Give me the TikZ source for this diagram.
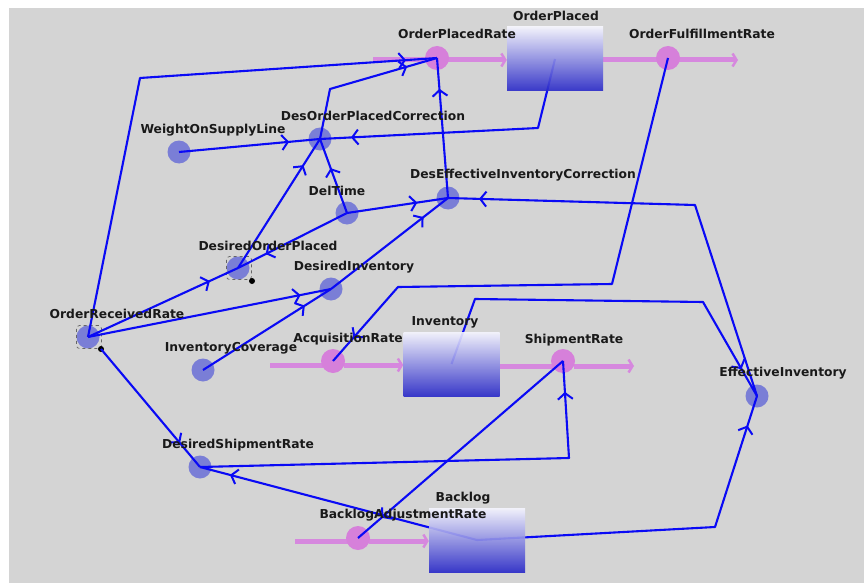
\documentclass[tikz,border=0pt]{standalone}
\usepackage{fontspec}
\setmainfont{DejaVu Sans}
\usetikzlibrary{arrows.meta,decorations.markings}
\pgfdeclarelayer{background}
\pgfdeclarelayer{foreground}
\pgfsetlayers{background,main,foreground}
\definecolor{bggray}{RGB}{212,212,212}
\definecolor{auxfill}{RGB}{122,126,214}
\definecolor{ratefill}{RGB}{214,128,218}
\definecolor{pipecol}{RGB}{214,136,222}
\definecolor{linkblue}{RGB}{10,10,245}
\definecolor{stockbot}{RGB}{40,40,200}
\definecolor{labelcol}{RGB}{25,25,25}
\tikzset{
  lbl/.style={font=\bfseries\fontsize{12.3}{14}\selectfont, text=labelcol, inner sep=0pt},
  aux/.style={circle, fill=auxfill, minimum size=23pt, inner sep=0pt},
  rate/.style={circle, fill=ratefill, minimum size=24pt, inner sep=0pt},
  stock/.style={rectangle, top color=white!96!blue, bottom color=stockbot, fill opacity=0.9, minimum width=96pt, minimum height=64pt, inner sep=0pt},
  pipe/.style={draw=pipecol, line width=5pt},
  pipearrow/.style={pipe, -{Straight Barb[length=4pt,width=13pt,line width=2.5pt]}},
  conn/.style={draw=linkblue, line width=2.1pt, line join=round, postaction={decorate},
    decoration={markings, mark=at position -31pt with {\arrow[line width=2pt]{Straight Barb[length=6pt,width=15pt]}}}},
  selbox/.style={draw=black!60, dashed, rounded corners=3pt, line width=0.7pt, minimum width=25pt, minimum height=23pt, inner sep=0pt},
  seldot/.style={circle, fill=black, minimum size=6pt, inner sep=0pt}
}
\begin{document}
\begin{tikzpicture}[x=1pt,y=-1pt]
\useasboundingbox (0,0) rectangle (864,583);
\begin{pgfonlayer}{background}
\fill[white] (0,0) rectangle (864,583);
\fill[bggray] (9,8) rectangle (864,583);
\end{pgfonlayer}
% stocks (drawn on top)
\begin{pgfonlayer}{foreground}
\node[stock] (OP) at (555,59) {};
\node[stock] (Inv) at (451.5,364) {};
\node[stock] (Bk) at (477,540) {};
\end{pgfonlayer}
% pipes
\begin{pgfonlayer}{background}
\coordinate (opsrc) at (373,60);
\coordinate (ofrsink) at (738,60);
\coordinate (arsrc) at (270,365);
\coordinate (srsink) at (634,366);
\coordinate (barsrc) at (295,541);
\draw[pipe] (opsrc) -- (428,60);
\draw[pipearrow] (447,60) -- (OP.west |- 0,60);
\draw[pipe] (OP.east |- 0,60) -- (659,60);
\draw[pipearrow] (678,60) -- (ofrsink);
\draw[pipe] (arsrc) -- (323,365);
\draw[pipearrow] (344,365) -- (Inv.west |- 0,365);
\draw[pipe] (Inv.east |- 0,366) -- (553,366);
\draw[pipearrow] (574,366) -- (srsink);
\draw[pipe] (barsrc) -- (348,541);
\draw[pipearrow] (369,541) -- (Bk.west |- 0,541);
\end{pgfonlayer}
% auxiliaries and rates
\node[aux] (ORR) at (88,337) {};
\node[aux] (WOSL) at (179,152) {};
\node[aux] (DOPC) at (320,139) {};
\node[aux] (DT) at (347,213) {};
\node[aux] (DEIC) at (448,198) {};
\node[aux] (DOP) at (238,268) {};
\node[aux] (DI) at (331,289) {};
\node[aux] (IC) at (203,370) {};
\node[aux] (DSR) at (200,467) {};
\node[aux] (EI) at (757,396) {};
\node[rate] (OPR) at (437,58) {};
\node[rate] (OFR) at (668,58) {};
\node[rate] (AR) at (333,361) {};
\node[rate] (SR) at (563,361) {};
\node[rate] (BAR) at (358,538) {};
% selection markers
\node[selbox] (selORR) at (89,337) {};
\node[seldot] (dotORR) at (101,349) {};
\node[selbox] (selDOP) at (239,268) {};
\node[seldot] (dotDOP) at (252,281) {};
% corner points
\coordinate (k1) at (140,78);
\coordinate (k2) at (538,128);
\coordinate (k3) at (330,89);
\coordinate (k4) at (695,205);
\coordinate (k5) at (569,458);
\coordinate (k6) at (715,527);
\coordinate (k7) at (475,299);
\coordinate (k8) at (703,302);
\coordinate (k9) at (612,284);
\coordinate (k10) at (398,287);
% connectors
\draw[conn] (ORR.center) -- (k1) -- (OPR.center);
\draw[conn] (OP.center) -- (k2) -- (DOPC.center);
\draw[conn] (WOSL.center) -- (DOPC.center);
\draw[conn] (DT.center) -- (DOPC.center);
\draw[conn] (DOP.center) -- (DOPC.center);
\draw[conn] (DOPC.center) -- (k3) -- (OPR.center);
\draw[conn] (DEIC.center) -- (OPR.center);
\draw[conn] (DT.center) -- (DOP.center);
\draw[conn] (DT.center) -- (DEIC.center);
\draw[conn] (DI.center) -- (DEIC.center);
\draw[conn] (EI.center) -- (k4) -- (DEIC.center);
\draw[conn] (ORR.center) -- (DOP.center);
\draw[conn] (ORR.center) -- (DI.center);
\draw[conn] (IC.center) -- (DI.center);
\draw[conn] (dotORR.center) -- (DSR.center);
\draw[conn] (DSR.center) -- (k5) -- (SR.center);
\draw[conn] (Bk.center) -- (DSR.center);
\draw[conn] (SR.center) -- (BAR.center);
\draw[conn] (Bk.center) -- (k6) -- (EI.center);
\draw[conn] (Inv.center) -- (k7) -- (k8) -- (EI.center);
\draw[conn] (OFR.center) -- (k9) -- (k10) -- (AR.center);
% labels
\begin{pgfonlayer}{foreground}
\node[lbl] (lOPR) at (457,34) {OrderPlacedRate};
\node[lbl] (lOP) at (556,16) {OrderPlaced};
\node[lbl] (lOFR) at (702,34) {OrderFulfillmentRate};
\node[lbl] (lWOSL) at (213,130) {WeightOnSupplyLine};
\node[lbl] (lDOPC) at (373,116) {DesOrderPlacedCorrection};
\node[lbl] (lDT) at (337,191) {DelTime};
\node[lbl] (lDEIC) at (523,175) {DesEffectiveInventoryCorrection};
\node[lbl] (lDOP) at (268,246) {DesiredOrderPlaced};
\node[lbl] (lDI) at (354,267) {DesiredInventory};
\node[lbl] (lORR) at (117,314) {OrderReceivedRate};
\node[lbl] (lIC) at (231,348) {InventoryCoverage};
\node[lbl] (lAR) at (348,339) {AcquisitionRate};
\node[lbl] (lInv) at (445,322) {Inventory};
\node[lbl] (lSR) at (574,340) {ShipmentRate};
\node[lbl] (lEI) at (783,373) {EffectiveInventory};
\node[lbl] (lDSR) at (238,445) {DesiredShipmentRate};
\node[lbl] (lBAR) at (403,515) {BacklogAdjustmentRate};
\node[lbl] (lBk) at (463,498) {Backlog};
\end{pgfonlayer}
\end{tikzpicture}
\end{document}
